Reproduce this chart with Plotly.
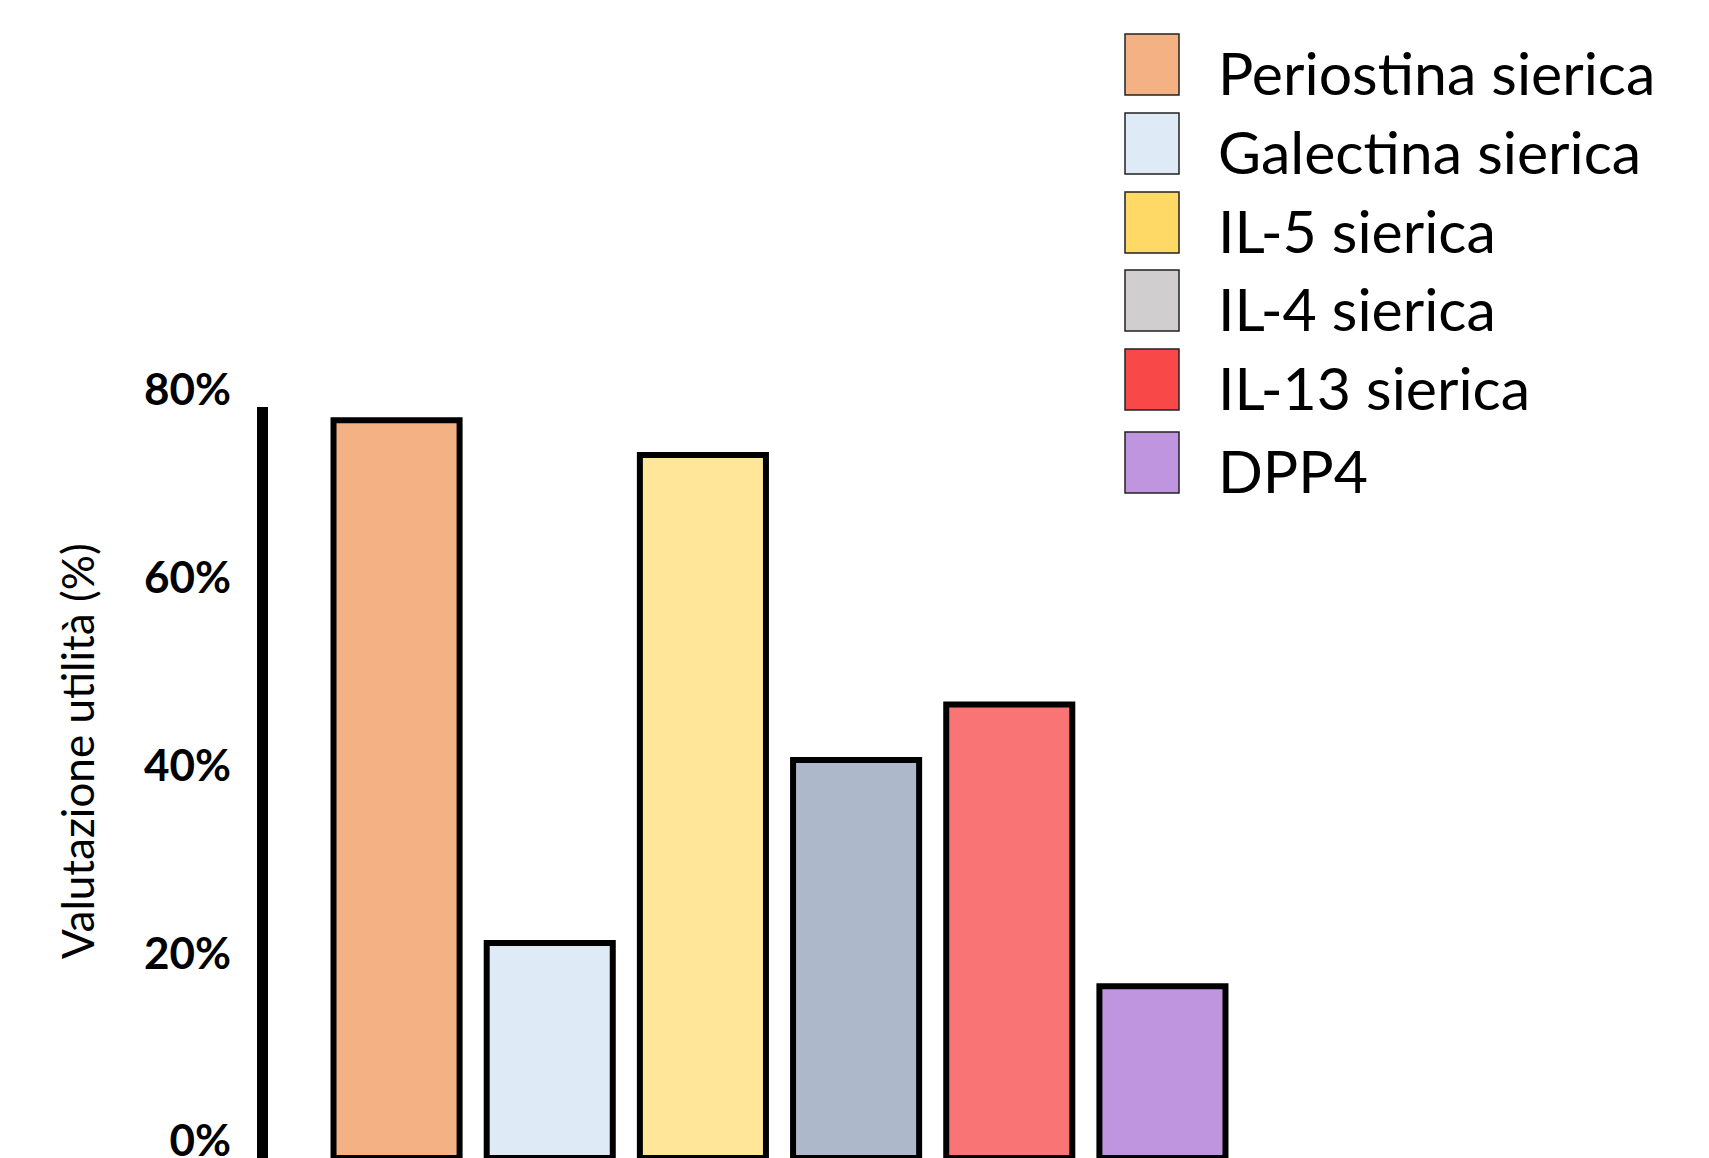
import plotly.graph_objects as go

# Biomarker categories and their usefulness rating (%)
categories = ["Periostina sierica", "Galectina sierica", "IL-5 sierica",
              "IL-4 sierica", "IL-13 sierica", "DPP4"]
values = [78.6, 22.9, 74.9, 42.4, 48.3, 18.3]
bar_colors = ["#F4B183", "#DEEBF7", "#FFE699", "#ADB9CA", "#F97575", "#BF95DF"]
legend_colors = ["#F4B183", "#DEEBF7", "#FFD966", "#D0CECE", "#F84848", "#BF95DF"]
tick_values = [0, 20, 40, 60, 80]
tick_labels = ["0%", "20%", "40%", "60%", "80%"]
y_title = "Valutazione utilità (%)"

# Page geometry (pixels)
W, H = 1709, 1158
ML, MR, MT, MB = 268, 409, 407, 0
PW, PH = W - ML - MR, H - MT - MB
FONT = "Lato"


def px_x(px):
    return (px - ML) / PW


def px_y(py):
    return (H - MB - py) / PH


fig = go.Figure()
fig.add_trace(go.Bar(
    x=categories,
    y=values,
    width=0.823,
    marker=dict(color=bar_colors, line=dict(color="black", width=6)),
    showlegend=False,
    hovertemplate="%{x}: %{y:.1f}%<extra></extra>",
))

# Custom legend: swatch boxes with labels on the right side of the chart
row_tops = [34, 113, 192, 270, 349, 432]
box_w, box_h = 54, 61
box_left = 1125
text_left = 1216
for name, color, top in zip(categories, legend_colors, row_tops):
    fig.add_shape(
        type="rect", xref="paper", yref="paper",
        x0=px_x(box_left), x1=px_x(box_left + box_w),
        y0=px_y(top + box_h), y1=px_y(top),
        fillcolor=color, line=dict(color="#222222", width=1.5),
        layer="above",
    )
    fig.add_annotation(
        text=name, xref="paper", yref="paper",
        x=px_x(text_left), y=px_y(top + box_h / 2 + 8),
        xanchor="left", yanchor="middle", showarrow=False,
        font=dict(family=FONT, size=59, color="black"),
    )

# Vertical axis title
fig.add_annotation(
    text=y_title, xref="paper", yref="paper",
    x=px_x(77), y=px_y(751), textangle=-90,
    xanchor="center", yanchor="middle", showarrow=False,
    font=dict(family=FONT, size=44, color="black"),
)

fig.update_layout(
    width=W, height=H,
    margin=dict(l=ML, r=MR, t=MT, b=MB, pad=0, autoexpand=False),
    plot_bgcolor="white", paper_bgcolor="white",
    barmode="overlay",
    font=dict(family=FONT, color="black"),
    xaxis=dict(
        range=[-0.8393, 5.898], showticklabels=False, showline=False,
        showgrid=False, zeroline=False, ticks="", automargin=False,
    ),
    yaxis=dict(
        range=[0, 80], tickmode="array", tickvals=tick_values,
        ticktext=tick_labels, showgrid=False, zeroline=False,
        showline=True, linecolor="black", linewidth=11, ticks="",
        tickfont=dict(family=FONT, size=44, color="black", weight="bold"),
        ticklabelshift=-17, ticklabelstandoff=17,
        ticklabeloverflow="allow", automargin=False,
    ),
)

fig.write_html("out.html")
